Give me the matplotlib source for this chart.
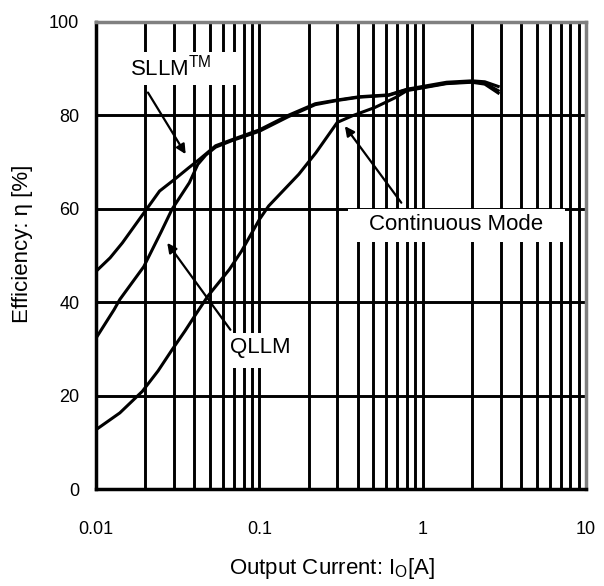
import matplotlib
matplotlib.use("Agg")
import matplotlib.pyplot as plt
from matplotlib.patches import Rectangle
from matplotlib.ticker import LogLocator, FixedLocator, NullFormatter, FixedFormatter

plt.rcParams['font.family'] = ['Liberation Sans', 'DejaVu Sans']
plt.rcParams['mathtext.fontset'] = 'custom'
plt.rcParams['mathtext.rm'] = 'Liberation Sans'
plt.rcParams['mathtext.it'] = 'Liberation Sans:italic'

# Efficiency vs. output current for three light-load operating modes
sllm_current = [0.01, 0.0122, 0.0145, 0.02, 0.0245, 0.03, 0.037, 0.043, 0.054, 0.068,
                0.1, 0.15, 0.22, 0.3, 0.41, 0.62, 0.8, 1.0, 1.4, 2.0, 2.4, 2.9]
sllm_eff = [46.6, 49.5, 52.7, 59.5, 63.8, 66.2, 68.8, 70.6, 73.5, 74.8,
            76.9, 80.0, 82.5, 83.3, 84.0, 84.4, 85.6, 86.2, 87.1, 87.4, 87.2, 86.2]

qllm_current = [0.01, 0.0129, 0.014, 0.0196, 0.025, 0.0292, 0.0373, 0.042, 0.047,
                0.054, 0.068, 0.1, 0.15, 0.22, 0.3, 0.41, 0.62, 0.8, 1.0, 1.4,
                2.0, 2.4, 2.9]
qllm_eff = [32.3, 38.4, 40.6, 47.6, 55.0, 59.9, 65.6, 69.5, 71.5,
            73.2, 74.6, 76.6, 79.7, 82.3, 83.2, 83.9, 84.3, 85.5, 86.0, 86.9,
            87.2, 86.9, 85.3]

cont_current = [0.01, 0.014, 0.0192, 0.024, 0.0292, 0.035, 0.041, 0.0484, 0.0655,
                0.078, 0.1, 0.114, 0.1745, 0.222, 0.30, 0.37, 0.51, 0.68, 0.8,
                1.0, 1.4, 2.0, 2.4, 2.9]
cont_eff = [12.7, 16.3, 20.9, 25.3, 29.8, 33.8, 37.5, 41.3, 47.0,
            51.0, 57.7, 60.6, 67.4, 72.0, 78.5, 79.9, 81.7, 83.8, 85.3,
            85.9, 86.8, 87.1, 86.7, 84.8]

y_ticks = [0, 20, 40, 60, 80, 100]
y_tick_labels = ['0', '20', '40', '60', '80', '100']
x_ticks = [0.01, 0.1, 1, 10]
x_tick_labels = ['0.01', '0.1', '1', '10']

fig = plt.figure(figsize=(6.04, 5.86), dpi=100)
ax = fig.add_axes([96 / 604, 1 - 489 / 586, 490 / 604, 467 / 586])

ax.set_xscale('log')
ax.set_xlim(0.01, 10)
ax.set_ylim(0, 100)

ax.xaxis.set_major_locator(FixedLocator(x_ticks))
ax.xaxis.set_major_formatter(FixedFormatter(x_tick_labels))
ax.xaxis.set_minor_locator(LogLocator(base=10, subs=range(2, 10)))
ax.xaxis.set_minor_formatter(NullFormatter())
ax.yaxis.set_major_locator(FixedLocator(y_ticks))
ax.yaxis.set_major_formatter(FixedFormatter(y_tick_labels))

ax.grid(which='both', axis='x', color='black', lw=2.1, zorder=1)
ax.grid(which='major', axis='y', color='black', lw=2.1, zorder=1)
ax.set_axisbelow(True)

ax.tick_params(axis='both', which='both', length=0, labelsize=13)
ax.tick_params(axis='x', pad=23)
ax.tick_params(axis='y', pad=12)

for side in ('left', 'bottom'):
    ax.spines[side].set_color('black')
    ax.spines[side].set_linewidth(2.5)
for side in ('top', 'right'):
    ax.spines[side].set_color('#808080')
    ax.spines[side].set_linewidth(2.5)

curve_kw = dict(color='black', lw=2.2, zorder=4, solid_joinstyle='round')
ax.plot(cont_current, cont_eff, **curve_kw)
ax.plot(qllm_current, qllm_eff, **curve_kw)
ax.plot(sllm_current, sllm_eff, **curve_kw)

# white label panels that interrupt the grid (axes-fraction coordinates)
panels = [
    (0.040, 0.865, 0.245, 0.071),   # SLLM
    (0.263, 0.259, 0.153, 0.075),   # QLLM
    (0.514, 0.529, 0.443, 0.071),   # Continuous Mode
]
for x0, y0, w, h in panels:
    ax.add_patch(Rectangle((x0, y0), w, h, transform=ax.transAxes,
                           fc='white', ec='none', zorder=2))

arrow = dict(arrowstyle='-|>', color='black', lw=1.6, mutation_scale=14,
             shrinkA=0, shrinkB=0)

ax.text(0.0288, 90.3, 'SLLM$^{\\mathrm{TM}}$', fontsize=16, ha='center',
        va='center', zorder=3)
ax.annotate('', xy=(0.0354, 71.7), xytext=(0.0208, 84.9), arrowprops=arrow,
            zorder=5)

ax.text(0.1016, 30.3, 'QLLM', fontsize=16, ha='center', va='center',
        zorder=3)
ax.annotate('', xy=(0.0273, 52.7), xytext=(0.0665, 34.1), arrowprops=arrow,
            zorder=5)

ax.text(1.60, 56.6, 'Continuous Mode', fontsize=16, ha='center', va='center',
        zorder=3)
ax.annotate('', xy=(0.334, 77.7), xytext=(0.74, 61.3), arrowprops=arrow,
            zorder=5)

ax.text(-0.151, 0.525, 'Efficiency: η [%]', transform=ax.transAxes,
        rotation=90, fontsize=16, ha='center', va='center')
ax.text(0.482, -0.171, 'Output Current: I$_{\\mathrm{O}}$[A]',
        transform=ax.transAxes, fontsize=16, ha='center', va='center')

fig.savefig('out.png', dpi=100)
